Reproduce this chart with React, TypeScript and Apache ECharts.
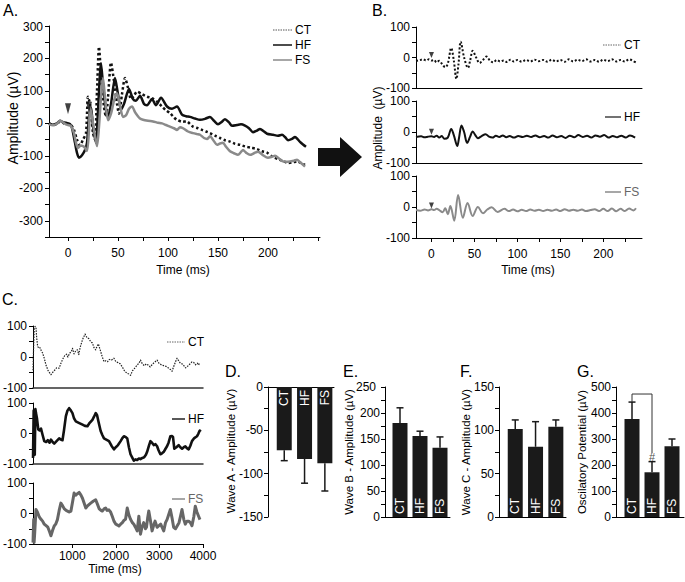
import React, { useEffect, useRef } from 'react';
import * as echarts from 'echarts';

const FONT = '"Liberation Sans", Arial, sans-serif';
const BLACK = '#111111';
const GREY = '#8a8a8a';
const GREY_C = '#666666';

// ---------- Panel A (ms, µV) ----------
const panelA_CT: number[][] = [[-19,0],[-15,-5],[-11,-2],[-8,6],[-5,2],[-2,-4],[0,-2],[3,-5],[6,-20],[9,-50],[12,-68],[15,-50],[18,-30],[20,82],[22,60],[25,-30],[27,-50],[29,100],[31,236],[33,150],[36,50],[38,20],[40,80],[43,187],[46,130],[49,60],[51,30],[54,90],[57,140],[60,110],[63,75],[66,85],[69,98],[74,90],[79,82],[84,78],[89,67],[94,52],[98,40],[102,32],[106,18],[109,11],[114,5],[119,6],[122,-2],[125,-10],[130,-15],[134,-20],[138,-25],[142,-30],[147,-38],[152,-45],[157,-52],[162,-56],[167,-63],[172,-66],[177,-71],[183,-75],[189,-79],[194,-86],[199,-90],[204,-102],[210,-110],[215,-116],[220,-122],[225,-120],[229,-117],[233,-122],[237,-128]];
const panelA_HF: number[][] = [[-19,0],[-15,-4],[-11,0],[-8,8],[-5,4],[-2,2],[0,0],[2,-2],[4,-14],[7,-60],[9,-91],[11,-106],[14,-98],[17,-82],[19,-60],[21,20],[23,50],[25,-10],[28,-60],[30,40],[33,185],[35,120],[38,40],[40,20],[43,60],[47,140],[50,90],[53,42],[56,60],[61,106],[65,75],[68,70],[72,85],[76,60],[79,56],[84,75],[88,56],[93,79],[99,52],[104,45],[109,52],[114,27],[118,22],[122,20],[127,15],[132,11],[137,14],[142,20],[146,8],[150,-3],[154,5],[157,13],[161,3],[164,-7],[169,-5],[173,-3],[177,-7],[181,-15],[185,-27],[189,-22],[192,-17],[196,-25],[199,-32],[205,-35],[210,-38],[214,-35],[217,-42],[220,-52],[224,-48],[227,-42],[230,-50],[232,-57],[235,-65],[238,-72]];
const panelA_FS: number[][] = [[-19,-2],[-15,-6],[-11,-1],[-8,8],[-5,3],[-2,-3],[0,-5],[3,-8],[6,-30],[8,-60],[10,-76],[13,-68],[16,-72],[19,-85],[21,-20],[22,52],[24,20],[27,-40],[29,-70],[31,-10],[33,80],[35,140],[37,80],[40,10],[43,30],[46,70],[49,93],[52,55],[55,20],[58,25],[61,45],[64,52],[67,35],[69,26],[72,15],[75,11],[80,8],[85,6],[90,2],[94,0],[98,-5],[102,-10],[106,-15],[109,-20],[112,-12],[115,-15],[120,-25],[125,-30],[129,-33],[132,-35],[136,-45],[139,-48],[142,-40],[146,-55],[149,-66],[152,-62],[155,-60],[158,-72],[162,-86],[166,-92],[170,-97],[173,-88],[175,-82],[178,-90],[182,-97],[186,-92],[190,-87],[195,-98],[200,-106],[204,-103],[207,-100],[211,-108],[215,-117],[219,-118],[222,-117],[226,-115],[229,-112],[233,-122],[237,-133]];
const panelA_markers: number[][] = [[0, 45], [21, 50]];

// ---------- Panel B (ms, µV) ----------
const panelB_CT: number[][] = [[-18,-11],[-14,-9],[-10,-6],[-6,-10],[-3,-6],[0,-10],[3,-8],[6,-16],[9,-11],[12,-20],[16,-32],[19,-20],[23,31],[26,-10],[29,-70],[31.5,-20],[34,52],[38,0],[42.5,-34],[45,-10],[48,22],[52,0],[56,-18],[60,-8],[64,3],[68,-10],[72,-16],[76,-8],[80,-13],[84,-10],[88,-15],[92,-7],[96,-13],[100,-8],[105,-14],[110,-8],[115,-13],[120,-7],[125,-12],[130,-8],[135,-14],[140,-7],[145,-13],[150,-8],[155,-14],[160,-6],[165,-13],[170,-7],[175,-12],[180,-6],[185,-13],[190,-8],[195,-14],[200,-7],[205,-12],[210,-6],[215,-13],[220,-8],[225,-13],[230,-6],[235,-12],[238,-16]];
const panelB_HF: number[][] = [[-18,-16],[-12,-14],[-8,-17],[-4,-15],[0,-14],[3,-16],[6,-12],[9,-18],[12,-13],[15,-22],[19,-18],[23,10],[26,-10],[30,-45],[32,-20],[35,21],[38,0],[41.5,-35],[45,-15],[48,2],[51,-10],[54,-20],[58,-14],[63,-7],[67,-15],[71,-18],[75,-12],[79,-16],[83,-11],[87,-17],[91,-13],[96,-18],[101,-13],[106,-16],[111,-12],[116,-16],[121,-11],[126,-17],[131,-13],[136,-18],[141,-11],[146,-17],[151,-13],[156,-19],[161,-12],[166,-17],[171,-10],[176,-16],[181,-12],[186,-18],[191,-11],[196,-15],[201,-10],[206,-18],[211,-13],[216,-17],[221,-12],[226,-18],[231,-11],[237,-18]];
const panelB_FS: number[][] = [[-18,-10],[-13,-12],[-8,-8],[-4,-11],[0,-7],[3,-10],[6,-6],[9,-10],[13,-17],[16,-4],[19,-23],[22,3],[26.5,-44],[31,39],[36.5,-35],[42,13],[48,-29],[54,0],[60,-20],[65,-8],[70,-1],[77,-16],[85,-6],[90,-13],[95,-8],[100,-14],[105,-9],[110,-13],[115,-8],[120,-12],[125,-9],[130,-13],[135,-9],[140,-12],[145,-8],[150,-13],[155,-7],[160,-12],[165,-9],[170,-12],[175,-8],[180,-13],[185,-10],[190,-7],[195,-13],[200,-6],[205,-13],[210,-5],[215,-14],[220,-6],[225,-13],[230,-5],[235,-11],[238,-4]];
const panelB_markersCT: number[][] = [[0, 8]];
const panelB_markersHF: number[][] = [[0, 1]];
const panelB_markersFS: number[][] = [[0, 5]];

// ---------- Panel C (ms, µV) ----------
const panelC_CT: number[][] = [[100,-43],[115,40],[130,94],[150,99],[168,95],[185,60],[207,34],[235,28],[260,30],[290,20],[320,13],[360,-5],[397,-26],[450,-45],[511,-57],[560,-48],[600,-42],[641,-35],[700,-36],[740,-20],[792,-4],[830,5],[869,9],[900,0],[940,12],[980,18],[1006,28],[1040,10],[1080,20],[1120,23],[1150,8],[1180,30],[1235,56],[1294,74],[1340,62],[1386,59],[1420,50],[1462,45],[1500,30],[1538,23],[1570,35],[1600,42],[1625,30],[1652,18],[1690,0],[1728,-15],[1770,-12],[1810,-15],[1850,-8],[1900,-10],[1957,-4],[2000,-15],[2050,-18],[2100,-22],[2148,-32],[2200,-45],[2262,-53],[2300,-55],[2338,-59],[2380,-45],[2420,-38],[2490,-26],[2530,-20],[2566,-10],[2600,-20],[2650,-28],[2700,-22],[2740,-26],[2790,-32],[2830,-25],[2880,-18],[2947,-10],[2990,-20],[3050,-26],[3100,-28],[3150,-30],[3200,-35],[3250,-40],[3289,-46],[3330,-30],[3370,-15],[3404,-4],[3440,-12],[3480,-20],[3520,-22],[3560,-28],[3600,-35],[3632,-32],[3680,-25],[3720,-20],[3746,-16],[3790,-18],[3830,-25],[3870,-20],[3897,-26],[3920,-20]];
const panelC_HF: number[][] = [[100,-80],[115,75],[125,-60],[140,-70],[155,80],[168,67],[190,50],[221,13],[250,10],[283,16],[320,-5],[358,-25],[400,-28],[440,-22],[480,-30],[511,-20],[550,-28],[586,-33],[640,-25],[700,-16],[740,-20],[776,-22],[810,10],[853,56],[890,75],[929,83],[970,75],[1005,67],[1040,50],[1082,40],[1150,35],[1235,29],[1290,25],[1349,24],[1400,35],[1463,45],[1500,55],[1539,67],[1570,60],[1600,40],[1652,8],[1690,-5],[1728,-16],[1780,-20],[1843,-25],[1900,-40],[1957,-52],[2000,-45],[2050,-38],[2110,-25],[2150,-15],[2185,-9],[2230,-12],[2262,-16],[2300,-45],[2337,-68],[2380,-80],[2413,-89],[2450,-85],[2490,-87],[2530,-82],[2565,-84],[2610,-80],[2650,-78],[2690,-70],[2718,-60],[2760,-40],[2794,-25],[2830,-30],[2870,-38],[2910,-35],[2947,-42],[2980,-55],[3022,-68],[3060,-65],[3100,-60],[3140,-50],[3175,-42],[3210,-30],[3251,-9],[3290,-8],[3312,-12],[3342,-50],[3390,-45],[3441,-38],[3480,-45],[3520,-50],[3560,-45],[3595,-42],[3630,-48],[3671,-52],[3710,-40],[3747,-25],[3800,-15],[3861,-9],[3890,-2],[3920,8],[3950,12]];
const panelC_FS: number[][] = [[100,-95],[115,-20],[125,-95],[140,-60],[168,13],[200,5],[240,-10],[283,-19],[320,-25],[358,-35],[400,-40],[440,-45],[480,-60],[511,-73],[550,-55],[586,-41],[620,-35],[660,-20],[700,10],[739,34],[780,25],[820,15],[860,10],[891,8],[930,5],[970,8],[1010,40],[1043,67],[1080,60],[1120,65],[1158,69],[1200,60],[1235,50],[1270,35],[1311,18],[1350,25],[1390,30],[1424,34],[1480,40],[1538,45],[1580,30],[1620,15],[1660,10],[1690,8],[1730,15],[1767,18],[1800,10],[1840,12],[1880,5],[1920,-10],[1957,-25],[2000,-35],[2040,-38],[2071,-41],[2110,-35],[2150,-30],[2190,-22],[2223,-19],[2262,18],[2300,-5],[2337,-19],[2380,-30],[2413,-35],[2450,-45],[2490,-57],[2528,-9],[2565,-68],[2600,-45],[2640,-30],[2680,-50],[2703,-45],[2730,-15],[2756,8],[2790,-20],[2832,-57],[2870,-38],[2900,-25],[2947,-45],[2990,-40],[3030,-35],[3060,-45],[3099,-57],[3140,-30],[3175,-20],[3210,-5],[3251,13],[3290,-15],[3327,-45],[3370,-50],[3410,-40],[3450,-30],[3490,-5],[3518,13],[3560,-20],[3595,-35],[3630,-25],[3671,-25],[3710,-30],[3747,-40],[3790,-10],[3823,24],[3860,5],[3899,-9],[3930,-20]];

// ---------- Panels D–G ----------
const categories = ['CT', 'HF', 'FS'];
const waveA_mean = [-73, -83, -88];
const waveA_err = [-85, -111, -120];
const waveB_mean = [181, 156, 133];
const waveB_err = [210, 165, 154];
const waveC_mean = [101.5, 81, 104];
const waveC_err = [112, 110, 112];
const op_mean = [377, 172, 272];
const op_err = [442, 213, 300];
const op_bracket: number[][] = [[0, 442], [0, 473], [1, 473], [1, 245]];
const op_mark: number[][] = [[1, 232]];

// ---------- tick values ----------
const ticksA_x = [0, 25, 50, 75, 100, 125, 150, 175, 200, 225, 250];
const labelsA_x = [0, 50, 100, 150, 200];
const ticksA_y = [-350, -300, -250, -200, -150, -100, -50, 0, 50, 100, 150, 200, 250, 300];
const labelsA_y = [-300, -200, -100, 0, 100, 200];
const labelA_yTop = '300';
const ticksB_x = [0, 25, 50, 75, 100, 125, 150, 175, 200, 225];
const labelsB_x = [0, 50, 100, 150, 200];
const ticksB_y = [-100, -50, 0, 50, 100];
const labelsB_y = [-100, 0, 100];
const ticksC_x = [1000, 2000, 3000, 4000];
const labelsC_x = [1000, 2000, 3000, 4000];
const ticksC_y = [-100, -50, 0, 50, 100];
const labelsC_y = [-100, 0, 100];
const ticksD_y = [0, -25, -50, -75, -100, -125, -150];
const labelsD_y = [0, -50, -100, -150];
const ticksE_y = [0, 25, 50, 75, 100, 125, 150, 175, 200, 225, 250];
const labelsE_y = [0, 50, 100, 150, 200];
const labelsE_yTop = [250];
const ticksF_y = [0, 25, 50, 75, 100, 125, 150];
const labelsF_y = [0, 50, 100, 150];
const ticksG_y = [0, 50, 100, 150, 200, 250, 300, 350, 400, 450, 500];
const labelsG_y = [0, 100, 200, 300, 400, 500];

const labelBase = { color: '#000', fontFamily: FONT, fontSize: 12, showMinLabel: true, showMaxLabel: true, hideOverlap: false };

function vAxis(gridIndex: number, min: number, max: number, tickVals: number[] | null, labelVals: number[] | null, margin = 6, extra: any = {}, lineWidth = 1, lineColor = '#000') {
  return {
    type: 'value', gridIndex, min, max,
    axisLine: { show: true, onZero: false, lineStyle: { color: lineColor, width: lineWidth } },
    axisTick: tickVals ? { show: true, customValues: tickVals, length: 4, lineStyle: { color: '#000', width: 1 } } : { show: false },
    axisLabel: labelVals ? {
      show: true, customValues: labelVals, margin, ...labelBase,
      formatter: (v: number) => String(v),
    } : { show: false },
    splitLine: { show: false },
    ...extra,
  };
}

// second, line-less y axis on the same grid carrying only the top label
function topLabelAxis(gridIndex: number, min: number, max: number, labelVals: number[], margin: number) {
  return {
    type: 'value', gridIndex, min, max, position: 'left', offset: 0,
    axisLine: { show: false, onZero: false },
    axisTick: { show: false },
    axisLabel: { show: true, customValues: labelVals, margin, ...labelBase, formatter: (v: number) => String(v) },
    splitLine: { show: false },
  };
}

function line(data: number[][], xi: number, color: string, width: number, type: any, smooth: number | boolean, z = 2) {
  return {
    type: 'line', xAxisIndex: xi, yAxisIndex: xi, data, showSymbol: false, symbol: 'none', smooth,
    lineStyle: { color, width, type, cap: 'butt', join: 'round' }, silent: true, animation: false, z,
  };
}

function markers(data: number[][], xi: number, size: number[]) {
  return {
    type: 'scatter', xAxisIndex: xi, yAxisIndex: xi, data, symbol: 'triangle', symbolRotate: 180,
    symbolSize: size, itemStyle: { color: BLACK }, silent: true, z: 6,
  };
}

function pairs(vals: number[]) {
  return vals.map((v, i) => [i, v]);
}

function bars(xi: number, means: number[], negative: boolean) {
  return {
    type: 'bar', xAxisIndex: xi, yAxisIndex: xi, data: pairs(means), barWidth: 15,
    itemStyle: { color: '#1a1a1a' }, silent: true,
    label: {
      show: true, formatter: (p: any) => categories[p.dataIndex],
      position: negative ? 'insideTop' : 'insideBottom', rotate: 90,
      align: negative ? 'right' : 'left', verticalAlign: 'middle', distance: 3,
      color: '#fff', fontFamily: FONT, fontSize: 12,
    },
  };
}

function errors(xi: number, means: number[], errs: number[]) {
  return {
    type: 'custom', xAxisIndex: xi, yAxisIndex: xi, silent: true, z: 4,
    data: means.map((m, i) => [i, m, errs[i]]),
    encode: { x: 0, y: 1 },
    renderItem: (_params: any, api: any) => {
      const p1 = api.coord([api.value(0), api.value(1)]);
      const p2 = api.coord([api.value(0), api.value(2)]);
      const st = { stroke: '#1a1a1a', lineWidth: 1.5 };
      return {
        type: 'group', children: [
          { type: 'line', shape: { x1: p1[0], y1: p1[1], x2: p2[0], y2: p2[1] }, style: st },
          { type: 'line', shape: { x1: p2[0] - 3.5, y1: p2[1], x2: p2[0] + 3.5, y2: p2[1] }, style: st },
        ],
      };
    },
  };
}

function txt(x: number, y: number, text: string, size = 12, align = 'center', rot = 0, color = '#000') {
  return {
    type: 'text', x, y, rotation: rot, silent: true, z: 100,
    style: { text, font: `normal ${size}px ${FONT}`, fill: color, textAlign: align, textVerticalAlign: 'middle' },
  };
}

function legendItem(x1: number, x2: number, y: number, label: string, color: string, width: number, dash: number[] | null, textColor = '#000') {
  return [
    { type: 'line', silent: true, shape: { x1, y1: y, x2, y2: y }, style: { stroke: color, lineWidth: width, lineDash: dash || undefined } },
    txt(x2 + 3, y, label, 12, 'left', 0, textColor),
  ];
}

const R90 = Math.PI / 2;

const grids = [
  { left: 49, top: 26, width: 271, height: 211 },   // A
  { left: 416, top: 27, width: 226, height: 61 },   // B CT
  { left: 416, top: 101, width: 226, height: 62 },  // B HF
  { left: 416, top: 176, width: 226, height: 62 },  // B FS
  { left: 32, top: 326, width: 171, height: 62 },   // C CT
  { left: 32, top: 403, width: 171, height: 61 },   // C HF
  { left: 32, top: 483, width: 171, height: 61 },   // C FS
  { left: 268, top: 387, width: 66, height: 130 },  // D
  { left: 385, top: 387, width: 65, height: 130 },  // E
  { left: 499, top: 387, width: 67, height: 130 },  // F
  { left: 616, top: 387, width: 68, height: 130 },  // G
];

const xAxes = [
  vAxis(0, -19, 252, ticksA_x, labelsA_x, 10),
  vAxis(1, -18, 245, null, null),
  vAxis(2, -18, 245, null, null),
  vAxis(3, -18, 245, ticksB_x, labelsB_x, 10),
  vAxis(4, 100, 4000, null, null, 6, {}, 1.5, '#333'),
  vAxis(5, 100, 4000, null, null, 6, {}, 1.5, '#333'),
  vAxis(6, 100, 4000, ticksC_x, labelsC_x, 6),
  vAxis(7, -0.8, 2.45, null, null, 6, { position: 'top' }),
  vAxis(8, -0.75, 2.5, null, null),
  vAxis(9, -0.8, 2.5, null, null),
  vAxis(10, -0.8, 2.6, null, null),
];

const yAxes = [
  vAxis(0, -350, 300, ticksA_y, labelsA_y, 6),
  vAxis(1, -100, 100, ticksB_y, labelsB_y, 6),
  vAxis(2, -100, 100, ticksB_y, labelsB_y, 6),
  vAxis(3, -100, 100, ticksB_y, labelsB_y, 6),
  vAxis(4, -100, 100, ticksC_y, labelsC_y, 6),
  vAxis(5, -100, 100, ticksC_y, labelsC_y, 6),
  vAxis(6, -100, 100, ticksC_y, labelsC_y, 6),
  vAxis(7, -150, 0, ticksD_y, labelsD_y, 5),
  vAxis(8, 0, 250, ticksE_y, labelsE_y, 5),
  vAxis(9, 0, 150, ticksF_y, labelsF_y, 5),
  vAxis(10, 0, 500, ticksG_y, labelsG_y, 5),
  topLabelAxis(8, 0, 250, labelsE_yTop, 9),
];

const series: any[] = [
  // A
  line(panelA_CT, 0, BLACK, 2.5, [2.5, 2.5], 0.25, 2),
  line(panelA_HF, 0, BLACK, 2.5, 'solid', 0.25, 3),
  line(panelA_FS, 0, GREY, 2.5, 'solid', 0.25, 4),
  markers(panelA_markers, 0, [6, 11]),
  // B
  line(panelB_CT, 1, BLACK, 2, [2, 2], 0.35),
  line(panelB_HF, 2, BLACK, 2, 'solid', 0.35),
  line(panelB_FS, 3, GREY, 2, 'solid', 0.35),
  markers(panelB_markersCT, 1, [5, 6]),
  markers(panelB_markersHF, 2, [5, 6]),
  markers(panelB_markersFS, 3, [5, 6]),
  // C
  line(panelC_CT, 4, '#222', 1.2, [1.5, 1.2], false),
  line(panelC_HF, 5, BLACK, 2.6, 'solid', false),
  line(panelC_FS, 6, GREY_C, 3, 'solid', false),
  // D-G
  bars(7, waveA_mean, true), errors(7, waveA_mean, waveA_err),
  bars(8, waveB_mean, false), errors(8, waveB_mean, waveB_err),
  bars(9, waveC_mean, false), errors(9, waveC_mean, waveC_err),
  bars(10, op_mean, false), errors(10, op_mean, op_err),
  {
    type: 'line', xAxisIndex: 10, yAxisIndex: 10, data: op_bracket, showSymbol: false, symbol: 'none',
    lineStyle: { color: '#333', width: 1 }, silent: true, z: 5,
  },
  {
    type: 'scatter', xAxisIndex: 10, yAxisIndex: 10, data: op_mark, symbolSize: 1, itemStyle: { color: 'transparent' },
    label: { show: true, formatter: '#', position: 'inside', color: '#222', fontFamily: FONT, fontSize: 11 }, silent: true, z: 6,
  },
];

const graphics: any[] = [
  txt(3, 10, 'A.', 16, 'left'),
  txt(372, 10, 'B.', 16, 'left'),
  txt(2, 299, 'C.', 16, 'left'),
  txt(225, 371, 'D.', 16, 'left'),
  txt(343, 371, 'E.', 16, 'left'),
  txt(460, 371, 'F.', 16, 'left'),
  txt(577, 371, 'G.', 16, 'left'),
  txt(43, 27, labelA_yTop, 12, 'right'),
  txt(13, 118, 'Amplitude (µV)', 14, 'center', R90),
  txt(183, 270, 'Time (ms)', 12),
  txt(378, 128, 'Amplitude  (µV)', 12, 'center', R90),
  txt(528, 270, 'Time (ms)', 12),
  txt(115, 569, 'Time (ms)', 12),
  txt(231, 451, 'Wave A - Amplitude (µV)', 11.5, 'center', R90),
  txt(349, 452, 'Wave B - Amplitude (µV)', 11.5, 'center', R90),
  txt(466, 452, 'Wave C - Amplitude (µV)', 11.5, 'center', R90),
  txt(582, 452, 'Oscilatory Potential (µV)', 11.5, 'center', R90),
  ...legendItem(273, 292, 30, 'CT', '#555', 1, [1.5, 1]),
  ...legendItem(273, 292, 45, 'HF', BLACK, 1.5, null),
  ...legendItem(273, 292, 60, 'FS', GREY, 1.5, null),
  ...legendItem(603, 621, 45, 'CT', '#666', 1, [1.5, 1]),
  ...legendItem(605, 621, 117, 'HF', '#444', 1.5, null),
  ...legendItem(605, 621, 192, 'FS', GREY, 1.5, null, '#666'),
  ...legendItem(167, 185, 342, 'CT', '#666', 1, [1.5, 1]),
  ...legendItem(172, 185, 419, 'HF', '#222', 1.5, null),
  ...legendItem(172, 185, 499, 'FS', GREY, 1.5, null, '#666'),
  {
    type: 'polygon', silent: true,
    shape: { points: [[318, 148], [340, 148], [340, 137], [362, 157], [340, 177], [340, 166], [318, 166]] },
    style: { fill: BLACK },
  },
];

const option: any = {
  animation: false,
  backgroundColor: '#ffffff',
  textStyle: { fontFamily: FONT },
  grid: grids,
  xAxis: xAxes,
  yAxis: yAxes,
  series,
  graphic: { elements: graphics },
};

export default function App() {
  const ref = useRef<HTMLDivElement>(null);
  useEffect(() => {
    const chart = echarts.init(ref.current as HTMLDivElement, null, { renderer: 'svg' });
    chart.setOption(option);
    return () => chart.dispose();
  }, []);
  return <div ref={ref} style={{ position: 'fixed', left: 0, top: 0, width: 685, height: 582, background: '#fff' }} />;
}
